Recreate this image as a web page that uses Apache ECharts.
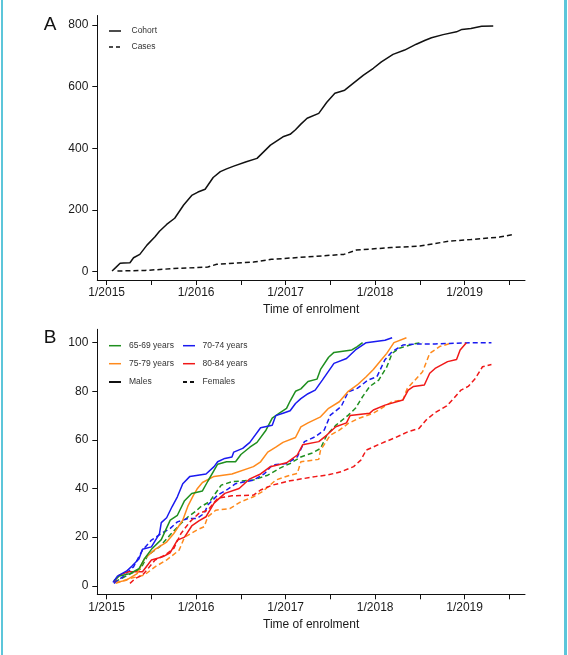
<!DOCTYPE html>
<html><head><meta charset="utf-8">
<script src="https://cdn.jsdelivr.net/npm/echarts@6/dist/echarts.min.js"></script>
<style>
html,body{margin:0;padding:0;background:#fff;}
#wrap{position:relative;width:568px;height:655px;overflow:hidden;background:#fff;}
#chart{position:absolute;left:0;top:0;width:568px;height:655px;}
.bl{position:absolute;top:0;left:1px;width:1.5px;height:655px;background:#5cc6da;}
.br{position:absolute;top:0;left:564px;width:2.5px;height:655px;background:#5cc6da;}
</style></head>
<body><div id="wrap"><div id="chart"></div><div class="bl"></div><div class="br"></div></div>
<script>
// ---- tick labels ----
const yearTicks = [2015, 2016, 2017, 2018, 2019];
const halfYearTicks = [2015, 2015.5, 2016, 2016.5, 2017, 2017.5, 2018, 2018.5, 2019, 2019.5];
const countTicks = [0, 200, 400, 600, 800];
const pctTicks = [0, 20, 40, 60, 80, 100];

// ---- Panel A: cumulative numbers ----
const cohortT = [2015.06,2015.10,2015.15,2015.19,2015.26,2015.30,2015.37,2015.45,2015.54,2015.59,2015.67,2015.76,2015.86,2015.95,2016.02,2016.10,2016.19,2016.27,2016.34,2016.42,2016.56,2016.68,2016.83,2016.97,2017.05,2017.11,2017.17,2017.24,2017.37,2017.46,2017.55,2017.66,2017.74,2017.87,2017.98,2018.07,2018.20,2018.33,2018.46,2018.56,2018.63,2018.76,2018.91,2018.97,2019.07,2019.19,2019.32];
const cohortN = [2,13,27,28,29,45,56,86,113,131,153,173,216,247,258,267,305,324,333,342,356,367,410,437,445,460,478,497,513,549,578,588,607,637,659,680,704,718,737,750,758,768,777,785,788,795,796];
const casesT = [2015.12,2015.43,2015.75,2016.13,2016.23,2016.64,2016.84,2017.25,2017.65,2017.79,2018.18,2018.50,2018.83,2019.07,2019.39,2019.56];
const casesN = [2,4,10,15,24,31,40,48,56,70,78,83,99,104,112,121];

// ---- Panel B: cumulative percentage, males (solid) ----
const m6569T = [2015.08,2015.14,2015.26,2015.36,2015.42,2015.50,2015.61,2015.71,2015.79,2015.87,2015.95,2016.07,2016.13,2016.24,2016.34,2016.44,2016.50,2016.60,2016.68,2016.78,2016.85,2016.93,2017.01,2017.05,2017.11,2017.17,2017.25,2017.35,2017.39,2017.48,2017.54,2017.74,2017.80,2017.86];
const m6569V = [2,4,5,7,11,15,19,27,29,35,38,39,43,50,51,51,54,57,59,64,69,71,73,76,80,81,84,85,89,94,96,97,98.4,100];
const m7074T = [2015.07,2015.12,2015.22,2015.28,2015.36,2015.40,2015.50,2015.59,2015.61,2015.67,2015.73,2015.79,2015.85,2015.93,2016.11,2016.20,2016.24,2016.32,2016.40,2016.42,2016.52,2016.60,2016.72,2016.85,2016.89,2016.97,2017.05,2017.11,2017.17,2017.25,2017.33,2017.41,2017.54,2017.68,2017.78,2017.90,2018.11,2018.19];
const m7074V = [1.4,4,6,8,11,15,16,21.5,26,28,32.5,36.6,42,45,46,49,51,52.4,53,55,56.5,59,65,66,70,71,72,75,77,79,80.5,84.6,91.5,93.5,97,100,101,102];
const m7579T = [2015.11,2015.22,2015.34,2015.42,2015.54,2015.67,2015.75,2015.85,2015.91,2015.97,2016.01,2016.07,2016.20,2016.40,2016.64,2016.72,2016.80,2016.89,2016.97,2017.11,2017.17,2017.25,2017.39,2017.48,2017.60,2017.70,2017.80,2017.90,2017.98,2018.07,2018.13,2018.21,2018.35];
const m7579V = [1.4,2.3,5,11,15,18,21.5,27,33,37.3,39.8,42.5,45,46,49,51,55,57,59,61,65.4,67,69.5,73,75.7,80,82.6,86,89,93,95.6,100,102];
const m8084T = [2015.08,2015.14,2015.24,2015.40,2015.50,2015.63,2015.71,2015.79,2015.87,2015.95,2016.03,2016.11,2016.20,2016.32,2016.48,2016.60,2016.72,2016.83,2017.01,2017.13,2017.19,2017.37,2017.46,2017.56,2017.68,2017.72,2017.94,2017.98,2018.11,2018.31,2018.37,2018.43,2018.55,2018.61,2018.67,2018.81,2018.91,2018.95,2019.02];
const m8084V = [1.6,4.4,5.8,5.8,10.6,12,13.6,18.8,20,24.6,26.7,28.4,34,38,40,44,46,49,50.6,53.8,58,59.3,62,65.4,67,70,71,72.3,74.3,76.4,80.5,82,82.6,87.4,89.4,92.2,93.1,97,100];

// ---- Panel B: females (dashed) ----
const f6569T = [2015.09,2015.20,2015.38,2015.46,2015.59,2015.71,2015.83,2015.91,2015.99,2016.05,2016.15,2016.28,2016.40,2016.64,2016.80,2016.93,2017.05,2017.17,2017.29,2017.39,2017.46,2017.56,2017.70,2017.78,2017.86,2017.94,2018.04,2018.13,2018.19,2018.27,2018.43,2018.53];
const f6569V = [1.6,3.7,7,12.6,16,21,25.6,28.4,30.5,32.5,34.6,41.4,42.8,43.5,45.5,48.3,50.3,53,54.5,56.5,62,66,70.2,73,77.8,82,84.6,90,95.6,97.7,99.5,100];
const f7074T = [2015.08,2015.18,2015.30,2015.40,2015.50,2015.61,2015.71,2015.79,2015.91,2016.01,2016.09,2016.13,2016.24,2016.34,2016.44,2016.64,2016.76,2016.85,2017.01,2017.13,2017.21,2017.33,2017.43,2017.50,2017.62,2017.70,2017.80,2017.92,2018.02,2018.11,2018.19,2018.31,2018.47,2018.67,2018.83,2019.07,2019.30];
const f7074V = [1,3.7,7.8,14.7,18.8,21.5,23.6,26.3,27.7,27.7,29.8,33.2,37.3,39.4,42,43.5,46,49.7,50.3,53,59.3,61.3,64,70.2,73.7,79.8,81.2,84.6,86,93,96.3,99,99.5,99.5,99.7,100,100];
const f7579T = [2015.10,2015.26,2015.42,2015.54,2015.67,2015.81,2015.87,2016.01,2016.09,2016.13,2016.22,2016.38,2016.50,2016.64,2016.74,2016.89,2017.05,2017.13,2017.17,2017.37,2017.39,2017.50,2017.60,2017.70,2017.82,2017.98,2018.07,2018.19,2018.31,2018.36,2018.43,2018.53,2018.61,2018.72,2018.84];
const f7579V = [1,3,4.4,7.8,10.6,14.7,20,23,24.3,28.4,31.1,31.8,34.6,36.6,38.7,43.5,45.5,46.2,51,52,55.8,62,64,66.8,68.9,71,73,75.7,76.4,81.2,84,88,95.6,98.4,99.7];
const f8084T = [2015.26,2015.32,2015.40,2015.46,2015.54,2015.65,2015.75,2015.83,2015.93,2016.03,2016.13,2016.24,2016.40,2016.64,2016.72,2016.85,2017.05,2017.33,2017.46,2017.62,2017.76,2017.84,2017.90,2018.07,2018.23,2018.37,2018.49,2018.57,2018.67,2018.80,2018.88,2018.96,2019.04,2019.12,2019.20,2019.30];
const f8084V = [1,3,4.4,7,10.6,12.6,15.4,21.5,26.3,29.8,31.1,36,37,37.3,39.4,41.4,43.2,44.9,45.5,46.9,49,51.7,55.8,58.6,61,63.4,64.7,68.2,71.2,74,77.1,80.5,82,85.3,90.1,91];

const ageGroups = ['65-69 years', '70-74 years', '75-79 years', '80-84 years'];
const ageColors = ['#1f8f1f', '#1a1af0', '#ff8a1c', '#f01818'];

// ---- build ----
const FONT = '"Liberation Sans", Arial, Helvetica, sans-serif';
const pair = (t, v) => t.map((x, i) => [x, v[i]]);
const DASH = [5, 3];

function xAx(gi) {
  return {
    type: 'value', gridIndex: gi, min: 2014.895, max: 2019.675,
    axisLine: { onZero: false, lineStyle: { color: '#111', width: 1 } },
    axisTick: { show: true, customValues: halfYearTicks, length: 5, lineStyle: { color: '#111', width: 1 } },
    axisLabel: { customValues: yearTicks, formatter: v => '1/' + Math.round(v), fontSize: 12, color: '#1a1a1a', margin: 7, fontFamily: FONT },
    splitLine: { show: false },
    name: 'Time of enrolment', nameLocation: 'middle', nameGap: 24,
    nameTextStyle: { fontSize: 12, color: '#1a1a1a', fontFamily: FONT }
  };
}
function yAx(gi, min, max, ticks) {
  return {
    type: 'value', gridIndex: gi, min: min, max: max,
    axisLine: { show: true, onZero: false, lineStyle: { color: '#111', width: 1 } },
    axisTick: { show: true, customValues: ticks, length: 5, lineStyle: { color: '#111', width: 1 } },
    axisLabel: { customValues: ticks, fontSize: 12, color: '#1a1a1a', margin: 9, fontFamily: FONT },
    splitLine: { show: false }
  };
}
function ln(name, data, color, dashed, gi, w) {
  return {
    name: name, type: 'line', xAxisIndex: gi, yAxisIndex: gi, data: data,
    showSymbol: false, symbol: 'none', silent: true, animation: false,
    lineStyle: { color: color, width: w || 1.5, type: dashed ? DASH : 'solid' }
  };
}

const series = [
  ln('Cohort', pair(cohortT, cohortN), '#111', false, 0),
  ln('Cases', pair(casesT, casesN), '#111', true, 0),
  ln('F 65-69', pair(f6569T, f6569V), ageColors[0], true, 1),
  ln('F 70-74', pair(f7074T, f7074V), ageColors[1], true, 1),
  ln('F 75-79', pair(f7579T, f7579V), ageColors[2], true, 1),
  ln('F 80-84', pair(f8084T, f8084V), ageColors[3], true, 1),
  ln('M 80-84', pair(m8084T, m8084V), ageColors[3], false, 1),
  ln('M 75-79', pair(m7579T, m7579V), ageColors[2], false, 1),
  ln('M 65-69', pair(m6569T, m6569V), ageColors[0], false, 1),
  ln('M 70-74', pair(m7074T, m7074V), ageColors[1], false, 1)
];

// legend / panel letters as graphic elements
const LG = 8.5;
function legLine(x1, x2, y, color, dashed, w) {
  return { type: 'line', shape: { x1: x1, y1: y, x2: x2, y2: y }, style: { stroke: color, lineWidth: w || 1.5, lineDash: dashed ? [4, 3] : null } };
}
function legText(x, y, s) {
  return { type: 'text', x: x, y: y, style: { text: s, fontSize: LG, fill: '#333', font: LG + 'px ' + FONT, textVerticalAlign: 'middle', verticalAlign: 'middle' } };
}
const graphics = [
  { type: 'text', x: 50, y: 25, style: { text: 'A', font: '19px ' + FONT, fill: '#111', align: 'center', verticalAlign: 'middle' } },
  { type: 'text', x: 50, y: 338, style: { text: 'B', font: '19px ' + FONT, fill: '#111', align: 'center', verticalAlign: 'middle' } },
  legLine(109, 121, 31, '#111', false), legText(131.5, 31, 'Cohort'),
  legLine(109, 121, 47, '#111', true), legText(131.5, 47, 'Cases'),
  legLine(109, 121, 345.7, ageColors[0], false), legText(129, 345.7, ageGroups[0]),
  legLine(183, 195, 345.7, ageColors[1], false), legText(202.5, 345.7, ageGroups[1]),
  legLine(109, 121, 363.7, ageColors[2], false), legText(129, 363.7, ageGroups[2]),
  legLine(183, 195, 363.7, ageColors[3], false), legText(202.5, 363.7, ageGroups[3]),
  legLine(109, 121, 382, '#111', false, 2), legText(129, 382, 'Males'),
  legLine(183, 195, 382, '#111', true, 2), legText(202.5, 382, 'Females')
];

const chart = echarts.init(document.getElementById('chart'), null, { renderer: 'canvas' });
chart.setOption({
  animation: false,
  backgroundColor: '#fff',
  textStyle: { fontFamily: FONT },
  grid: [
    { left: 97.3, top: 15.5, width: 427.7, height: 264.5 },
    { left: 97.3, top: 329.3, width: 427.7, height: 265 }
  ],
  xAxis: [xAx(0), xAx(1)],
  yAxis: [yAx(0, -27, 830, countTicks), yAx(1, -3.5, 105.5, pctTicks)],
  series: series,
  graphic: graphics
});
</script>
</body></html>
